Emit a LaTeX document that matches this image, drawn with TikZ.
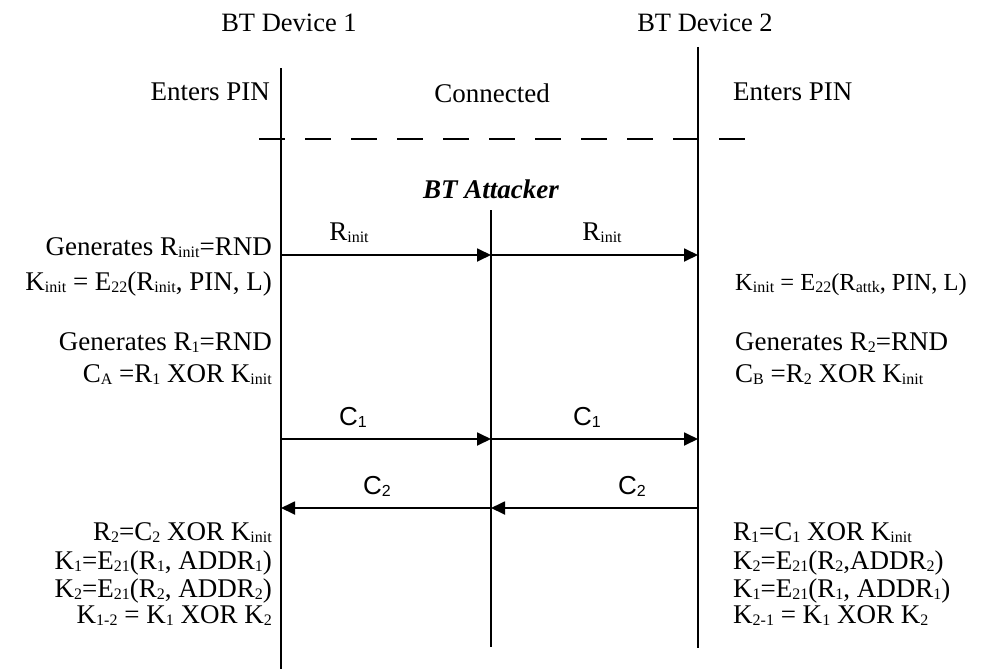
\documentclass[tikz,border=0pt]{standalone}
\usepackage{fontspec}
\setmainfont{Liberation Serif}
\newfontfamily\labelfont{Liberation Sans}
\usetikzlibrary{arrows.meta}
\newcommand{\lo}[1]{\raisebox{-2.5pt}{\fontsize{16}{16}\selectfont #1}}

\begin{document}
\begin{tikzpicture}[x=1pt,y=-1pt,
	lifeline/.style={line width=2pt},
	msg/.style={line width=1.8pt,-{Triangle[length=14pt,width=13pt]}},
	txt/.style={inner sep=0pt,font=\fontsize{27}{29}\selectfont},
	lbl/.style={inner sep=0pt,font=\labelfont\fontsize{26}{28}\selectfont}]
				\useasboundingbox (0,0) rectangle (995,669);
				\coordinate (d1top) at (281,68);
				\coordinate (d1bot) at (281,669);
				\coordinate (attop) at (491,210);
				\coordinate (atbot) at (491,647);
				\coordinate (d2top) at (698,47);
				\coordinate (d2bot) at (698,648);
				\coordinate (sepL) at (259,139);
				\coordinate (sepR) at (748,139);
				\coordinate (r1) at (281,255);
				\coordinate (r2) at (491,255);
				\coordinate (r3) at (698,255);
				\coordinate (c1) at (281,439);
				\coordinate (c2) at (491,439);
				\coordinate (c3) at (698,439);
				\coordinate (k1) at (281,508);
				\coordinate (k2) at (491,508);
				\coordinate (k3) at (698,508);
				\draw[lifeline] (d1top)--(d1bot);
				\draw[lifeline] (attop)--(atbot);
				\draw[lifeline] (d2top)--(d2bot);
				\draw[line width=2.2pt,dash pattern=on 26pt off 20pt] (sepL)--(sepR);
				\draw[msg] (r1)--(r2);
				\draw[msg] (r2)--(r3);
				\draw[msg] (c1)--(c2);
				\draw[msg] (c2)--(c3);
				\draw[msg] (k3)--(k2);
				\draw[msg] (k2)--(k1);
				\node[txt,anchor=base,font=\fontsize{26.5}{28}\selectfont] (dev1) at (289,32) {BT Device 1};
				\node[txt,anchor=base,font=\fontsize{26.5}{28}\selectfont] (dev2) at (705,32) {BT Device 2};
				\node[txt,anchor=base east] (pin1) at (270,100) {Enters PIN};
				\node[txt,anchor=base west] (pin2) at (733,100) {Enters PIN};
				\node[txt,anchor=base] (conn) at (492,102) {Connected};
				\node[txt,anchor=base,font=\fontsize{27}{29}\selectfont\bfseries\itshape] (att) at (491,198) {BT Attacker};
				\node[txt,anchor=base] (rlab1) at (349,240) {R\lo{init}};
				\node[txt,anchor=base] (rlab2) at (602,240) {R\lo{init}};
				\node[lbl,anchor=base] (clab1) at (353,425) {C\lo{1}};
				\node[lbl,anchor=base] (clab2) at (587,425) {C\lo{1}};
				\node[lbl,anchor=base] (klab1) at (377,494) {C\lo{2}};
				\node[lbl,anchor=base] (klab2) at (632,494) {C\lo{2}};
				\node[txt,anchor=base east] (a1) at (272,255) {Generates R\lo{init}=RND};
				\node[txt,anchor=base east] (a2) at (272,290) {K\lo{init} = E\lo{22}(R\lo{init}, PIN, L)};
				\node[txt,anchor=base east] (a3) at (272,350) {Generates R\lo{1}=RND};
				\node[txt,anchor=base east] (a4) at (272,382) {C\lo{A} =R\lo{1} XOR K\lo{init}};
				\node[txt,anchor=base east] (a5) at (272,540) {R\lo{2}=C\lo{2} XOR K\lo{init}};
				\node[txt,anchor=base east] (a6) at (272,569) {K\lo{1}=E\lo{21}(R\lo{1}, ADDR\lo{1})};
				\node[txt,anchor=base east] (a7) at (272,597) {K\lo{2}=E\lo{21}(R\lo{2}, ADDR\lo{2})};
				\node[txt,anchor=base east] (a8) at (272,623) {K\lo{1-2} = K\lo{1} XOR K\lo{2}};
				\node[txt,anchor=base west,font=\fontsize{24.5}{26}\selectfont] (b1) at (735,290) {K\lo{init} = E\lo{22}(R\lo{attk}, PIN, L)};
				\node[txt,anchor=base west] (b2) at (735,350) {Generates R\lo{2}=RND};
				\node[txt,anchor=base west] (b3) at (735,382) {C\lo{B} =R\lo{2} XOR K\lo{init}};
				\node[txt,anchor=base west] (b4) at (733,540) {R\lo{1}=C\lo{1} XOR K\lo{init}};
				\node[txt,anchor=base west] (b5) at (733,569) {K\lo{2}=E\lo{21}(R\lo{2},ADDR\lo{2})};
				\node[txt,anchor=base west] (b6) at (733,597) {K\lo{1}=E\lo{21}(R\lo{1}, ADDR\lo{1})};
				\node[txt,anchor=base west] (b7) at (733,623) {K\lo{2-1} = K\lo{1} XOR K\lo{2}};
			\end{tikzpicture}
\end{document}
